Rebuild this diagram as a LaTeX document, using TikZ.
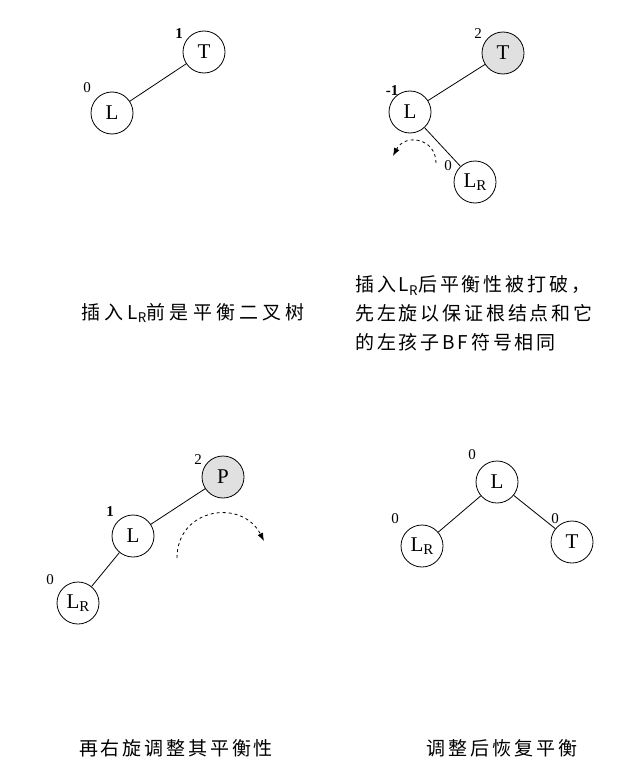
\documentclass[tikz,border=0pt]{standalone}
\usepackage{fontspec}
\setmainfont{Liberation Serif}
\newfontfamily\cjk[LetterSpace=15]{Noto Sans CJK SC}
\newfontfamily\cjkwide[LetterSpace=22]{Noto Sans CJK SC}
\usetikzlibrary{arrows.meta}
\definecolor{nodegray}{HTML}{E0E0E0}
\tikzset{
  tn/.style={circle, draw, line width=0.8pt, minimum size=42pt, inner sep=0pt, font=\fontsize{21}{22}\selectfont},
  bflabel/.style={font=\fontsize{15}{15}\selectfont, inner sep=0pt},
  bflabelb/.style={font=\bfseries\fontsize{15}{15}\selectfont, inner sep=0pt},
  edge/.style={line width=0.8pt},
  rot/.style={dashed, line width=0.8pt, -{Latex[length=8pt,width=6pt]}},
  captxt/.style={font=\cjk\fontsize{19}{29}\selectfont, inner sep=0pt},
  captwide/.style={font=\cjkwide\fontsize{19}{29}\selectfont, inner sep=0pt},
}
\newcommand{\LR}{L\raisebox{-3pt}{\fontsize{15}{15}\selectfont R}}
\begin{document}
\begin{tikzpicture}[x=1pt,y=-1pt]
\useasboundingbox (0,0) rectangle (623,773);
% panel 1
\node[tn] (t1) at (204,52) {T};
\node[tn] (l1) at (112,113) {L};
\draw[edge] (l1) -- (t1);
\node[bflabelb] (b1t) at (179,34) {1};
\node[bflabel] (b1l) at (87,88) {0};
\node[captwide] (c1) at (193,313) {插入L\textsubscript{R}前是平衡二叉树};
% panel 2
\node[tn, fill=nodegray] (t2) at (503,53) {T};
\node[tn] (l2) at (410,112) {L};
\node[tn] (r2) at (475,182) {\LR};
\draw[edge] (l2) -- (t2);
\draw[edge] (l2) -- (r2);
\node[bflabel] (b2t) at (478,34) {2};
\node[bflabelb] (b2l) at (392,91) {-1};
\node[bflabel] (b2r) at (448,166) {0};
\coordinate (a2s) at (436,163);
\coordinate (a2e) at (393,156);
\draw[rot] (a2s) .. controls (436,138) and (405,133) .. (a2e);
\node[captxt, align=left, anchor=west] (c2) at (355,313) {插入L\textsubscript{R}后平衡性被打破，\\先左旋以保证根结点和它\\的左孩子BF符号相同};
% panel 3
\node[tn, fill=nodegray] (p3) at (223,477) {P};
\node[tn] (l3) at (133,536) {L};
\node[tn] (r3) at (78,603) {\LR};
\draw[edge] (l3) -- (p3);
\draw[edge] (l3) -- (r3);
\node[bflabel] (b3p) at (198,460) {2};
\node[bflabelb] (b3l) at (110,512) {1};
\node[bflabel] (b3r) at (50,580) {0};
\coordinate (a3s) at (177,558);
\coordinate (a3e) at (264,541);
\draw[rot] (a3s) .. controls (177,508) and (242,498) .. (a3e);
\node[captxt] (c3) at (176,748) {再右旋调整其平衡性};
% panel 4
\node[tn] (l4) at (497,482) {L};
\node[tn] (r4) at (422,546) {\LR};
\node[tn] (t4) at (572,542) {T};
\draw[edge] (l4) -- (r4);
\draw[edge] (l4) -- (t4);
\node[bflabel] (b4l) at (472,455) {0};
\node[bflabel] (b4r) at (395,519) {0};
\node[bflabel] (b4t) at (555,519) {0};
\node[captxt] (c4) at (502,748) {调整后恢复平衡};
\end{tikzpicture}
\end{document}
